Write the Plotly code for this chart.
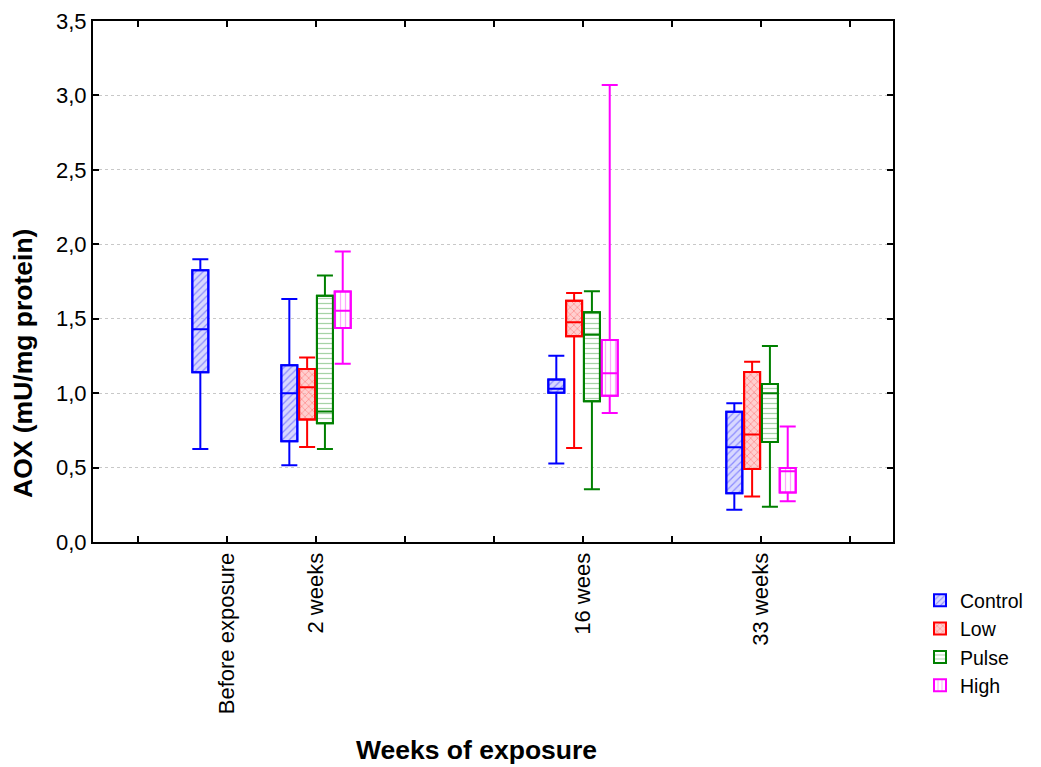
import plotly.graph_objects as go

# Category labels and their positions on the x axis (tick index)
categories = ["Before exposure", "2 weeks", "16 wees", "33 weeks"]
cat_pos = [1, 2, 5, 7]
groups = ["Control", "Low", "Pulse", "High"]
group_offset = [-0.3, -0.1, 0.1, 0.3]

# Box statistics per group, per category (None = no data)
control_low = [0.625, 0.515, 0.527, 0.216]
control_q1 = [1.14, 0.676, 1.002, 0.328]
control_med = [1.43, 1.00, 1.029, 0.636]
control_q3 = [1.825, 1.187, 1.091, 0.875]
control_high = [1.90, 1.633, 1.252, 0.932]

low_low = [None, 0.638, 0.631, 0.306]
low_q1 = [None, 0.823, 1.383, 0.491]
low_med = [None, 1.04, 1.477, 0.723]
low_q3 = [None, 1.163, 1.62, 1.142]
low_high = [None, 1.24, 1.673, 1.211]

pulse_low = [None, 0.625, 0.355, 0.236]
pulse_q1 = [None, 0.797, 0.946, 0.671]
pulse_med = [None, 0.877, 1.392, 1.00]
pulse_q3 = [None, 1.655, 1.544, 1.062]
pulse_high = [None, 1.79, 1.685, 1.317]

high_low = [None, 1.198, 0.866, 0.274]
high_q1 = [None, 1.437, 0.982, 0.333]
high_med = [None, 1.553, 1.133, 0.475]
high_q3 = [None, 1.682, 1.357, 0.497]
high_high = [None, 1.952, 3.07, 0.776]

stats = {
    "Control": (control_low, control_q1, control_med, control_q3, control_high),
    "Low": (low_low, low_q1, low_med, low_q3, low_high),
    "Pulse": (pulse_low, pulse_q1, pulse_med, pulse_q3, pulse_high),
    "High": (high_low, high_q1, high_med, high_q3, high_high),
}

colors = {"Control": "#0000ff", "Low": "#ff0000", "Pulse": "#008000", "High": "#ff00ff"}
fills = {"Control": "rgba(190,190,255,0.6)", "Low": "rgba(255,175,175,0.6)",
         "Pulse": "rgba(255,255,255,1)", "High": "rgba(255,255,255,1)"}
patterns = {"Control": "/", "Low": "x", "Pulse": "-", "High": "|"}

tick_vals = list(range(9))
tick_text = ["" for _ in tick_vals]
for c, p in zip(categories, cat_pos):
    tick_text[p] = c

y_ticks = [0, 0.5, 1.0, 1.5, 2.0, 2.5, 3.0, 3.5]

BOX_W = 0.18
FONT = "Arial, Liberation Sans, sans-serif"

fig = go.Figure()

# patterned box bodies (also provide the legend entries)
for g, off in zip(groups, group_offset):
    lo, q1, med, q3, hi = stats[g]
    xs, bases, hs = [], [], []
    for p, a, b in zip(cat_pos, q1, q3):
        if a is None:
            continue
        xs.append(p + off)
        bases.append(a)
        hs.append(b - a)
    fig.add_trace(go.Bar(
        x=xs, y=hs, base=bases, width=BOX_W, name=g,
        marker=dict(color=fills[g],
                    line=dict(color=colors[g], width=2),
                    pattern=dict(shape=patterns[g], fgcolor=colors[g],
                                 fgopacity=0.35, size=5, solidity=0.25)),
        showlegend=True, hoverinfo="skip",
    ))

# whiskers, medians, outlines
for g, off in zip(groups, group_offset):
    lo, q1, med, q3, hi = stats[g]
    xs, L, Q1, M, Q3, H = [], [], [], [], [], []
    for p, a, b, c, d, e in zip(cat_pos, lo, q1, med, q3, hi):
        if b is None:
            continue
        xs.append(p + off)
        L.append(a); Q1.append(b); M.append(c); Q3.append(d); H.append(e)
    fig.add_trace(go.Box(
        x=xs, lowerfence=L, q1=Q1, median=M, q3=Q3, upperfence=H,
        width=BOX_W, whiskerwidth=1, fillcolor="rgba(0,0,0,0)",
        line=dict(color=colors[g], width=2), name=g, showlegend=False,
        boxpoints=False,
    ))

# page has an 8px body margin, so figure coords = page coords - 8
ML, MT = 85, 13
PLOT_W, PLOT_H = 800, 521
W, H = 1041, 767

fig.update_layout(
    width=W, height=H,
    margin=dict(l=ML, r=W - ML - PLOT_W, t=MT, b=H - MT - PLOT_H, autoexpand=False),
    paper_bgcolor="white", plot_bgcolor="white",
    barmode="overlay", boxmode="overlay",
    separators=", ",
    font=dict(family=FONT, size=22, color="black"),
    showlegend=True,
    legend=dict(x=(912 - ML) / PLOT_W, y=-0.075, xanchor="left", yanchor="top",
                font=dict(family=FONT, size=19.5, color="black"),
                tracegroupgap=2, itemwidth=30, bgcolor="rgba(0,0,0,0)"),
    xaxis=dict(range=[-0.506, 8.483], tickvals=tick_vals, ticktext=tick_text,
               tickangle=-90, ticks="inside", ticklen=6, tickwidth=2,
               tickcolor="black", showline=True, linecolor="black",
               linewidth=2, mirror="ticks", showgrid=False, zeroline=False,
               automargin=False, tickfont=dict(family=FONT, size=22)),
    yaxis=dict(range=[0, 3.5], tickvals=y_ticks, tickformat=".1f",
               ticks="inside", ticklen=6, tickwidth=2, tickcolor="black",
               showline=True, linecolor="black", linewidth=2, mirror="ticks",
               showgrid=True, gridcolor="#c8c8c8", griddash="dot", gridwidth=1,
               zeroline=False, automargin=False, tickfont=dict(family=FONT, size=22)),
    annotations=[
        dict(text="<b>Weeks of exposure</b>", x=(468 - ML) / PLOT_W, xref="paper",
             y=(MT + PLOT_H - 742) / PLOT_H, yref="paper", showarrow=False,
             xanchor="center", yanchor="middle",
             font=dict(family=FONT, size=26.5, color="black")),
        dict(text="<b>AOX (mU/mg protein)</b>", x=(15 - ML) / PLOT_W, xref="paper",
             y=(MT + PLOT_H - 356) / PLOT_H, yref="paper", textangle=-90,
             showarrow=False, xanchor="center", yanchor="middle",
             font=dict(family=FONT, size=26.5, color="black")),
    ],
)

fig.write_html("out.html")
